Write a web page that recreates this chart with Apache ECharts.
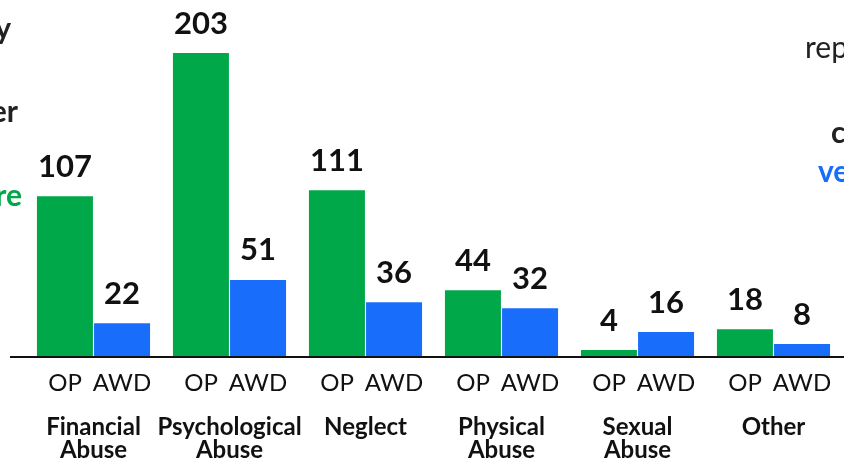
<!DOCTYPE html>
<html>
<head>
<meta charset="utf-8">
<script src="https://cdn.jsdelivr.net/npm/echarts@6/dist/echarts.min.js"></script>
<style>
html,body{margin:0;padding:0;background:#fff;}
#chart{width:844px;height:463px;}
</style>
</head>
<body>
<div id="chart"></div>
<script>
const categories = ['Financial\nAbuse', 'Psychological\nAbuse', 'Neglect', 'Physical\nAbuse', 'Sexual\nAbuse', 'Other'];
const subLabels = ['OP', 'AWD'];
const opValues = [107, 203, 111, 44, 4, 18];
const awdValues = [22, 51, 36, 32, 16, 8];
const leftFragments = ['y', 'er', 're'];
const rightFragments = ['rep', 'c', 've'];

const GREEN = '#00A84A';
const BLUE = '#186EFB';
const INK = '#111111';

const chart = echarts.init(document.getElementById('chart'), null, {renderer: 'canvas'});

const valueLabel = {
  show: true,
  position: 'top',
  distance: 14,
  fontFamily: 'Lato',
  fontWeight: 'bold',
  fontSize: 31,
  color: INK
};

chart.setOption({
  animation: false,
  backgroundColor: '#ffffff',
  grid: {left: 25.5, right: 2.5, top: 53, bottom: 107, containLabel: false},
  xAxis: {
    type: 'category',
    data: categories,
    axisLine: {show: false},
    axisTick: {show: false},
    axisLabel: {
      interval: 0,
      margin: 12,
      formatter: function (v) {
        return subLabels.map(s => '{s|' + s + '}').join('') + '\n{g| }\n' +
          v.split('\n').map(l => '{c|' + l + '}').join('\n');
      },
      rich: {
        s: {fontFamily: 'Lato', fontSize: 24, color: INK, width: 57, align: 'center', lineHeight: 30},
        g: {fontSize: 10, lineHeight: 18},
        c: {fontFamily: 'Lato', fontWeight: 'bold', fontSize: 24, lineHeight: 23, color: INK, align: 'center'}
      }
    }
  },
  yAxis: {type: 'value', min: 0, max: 203, show: false, splitLine: {show: false}},
  series: [
    {name: subLabels[0], type: 'bar', data: opValues, barWidth: 56, barGap: '2%', itemStyle: {color: GREEN}, label: valueLabel},
    {name: subLabels[1], type: 'bar', data: awdValues, barWidth: 56, barGap: '2%', itemStyle: {color: BLUE}, label: valueLabel}
  ],
  graphic: [
    {type: 'line', shape: {x1: 10, y1: 357, x2: 844, y2: 357}, style: {stroke: INK, lineWidth: 2}, z: 10},
    {type: 'text', x: 11, y: 29, style: {text: leftFragments[0], align: 'right', verticalAlign: 'middle', font: 'bold 30px Lato', fill: '#222'}},
    {type: 'text', x: 18, y: 112, style: {text: leftFragments[1], align: 'right', verticalAlign: 'middle', font: 'bold 30px Lato', fill: '#222'}},
    {type: 'text', x: 22, y: 196, style: {text: leftFragments[2], align: 'right', verticalAlign: 'middle', font: 'bold 30px Lato', fill: GREEN}},
    {type: 'text', x: 805, y: 48, style: {text: rightFragments[0], align: 'left', verticalAlign: 'middle', font: '30px Lato', fill: '#222'}},
    {type: 'text', x: 831, y: 133, style: {text: rightFragments[1], align: 'left', verticalAlign: 'middle', font: 'bold 30px Lato', fill: '#222'}},
    {type: 'text', x: 818, y: 172, style: {text: rightFragments[2], align: 'left', verticalAlign: 'middle', font: 'bold 30px Lato', fill: BLUE}}
  ]
});
</script>
</body>
</html>
